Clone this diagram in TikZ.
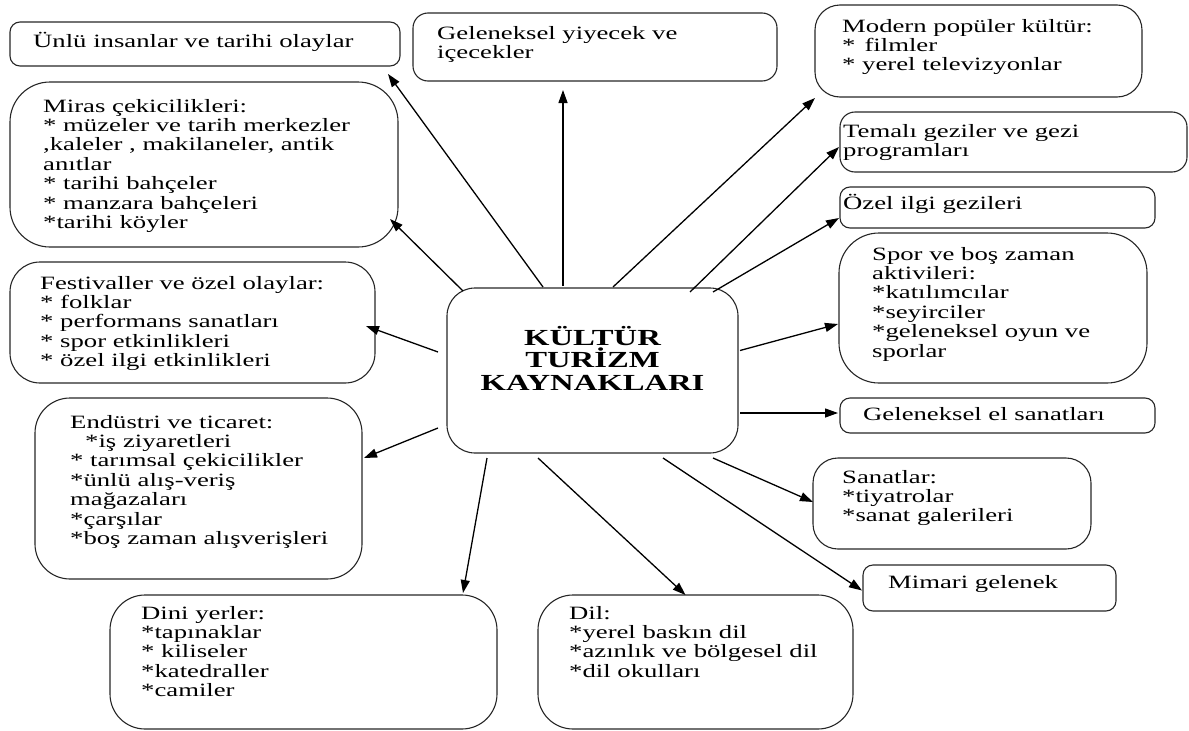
\documentclass[tikz,border=0pt]{standalone}
\usepackage{fontspec}
\setmainfont{Liberation Serif}[FakeStretch=1.42]
\usetikzlibrary{arrows.meta,calc}
\begin{document}
\begin{tikzpicture}[x=1pt,y=-1pt,
  box/.style={draw=black!85, line width=1.1pt, inner sep=0pt, outer sep=0pt, anchor=north west},
  txt/.style={font=\fontsize{18.8}{19.4}\selectfont, align=left, anchor=base west, inner sep=0pt},
  arr/.style={line width=1.3pt, -{Triangle[length=13pt,width=9pt]}}]
\useasboundingbox (0,0) rectangle (1189,731);
% boxes
\node[box, rounded corners=10pt, minimum width=390pt, minimum height=44pt] (ulu) at (10,22) {};
\node[box, rounded corners=40pt, minimum width=388pt, minimum height=165pt] (miras) at (10,82) {};
\node[box, rounded corners=15pt, minimum width=364pt, minimum height=68pt] (yiy) at (413,13) {};
\node[box, rounded corners=25pt, minimum width=327pt, minimum height=92pt] (mod) at (815,5) {};
\node[box, rounded corners=15pt, minimum width=347pt, minimum height=60pt] (tem) at (840,112) {};
\node[box, rounded corners=10pt, minimum width=315pt, minimum height=41pt] (ozel) at (840,187) {};
\node[box, rounded corners=40pt, minimum width=308pt, minimum height=150pt] (spor) at (839,233) {};
\node[box, rounded corners=10pt, minimum width=315pt, minimum height=35pt] (elsan) at (840,398) {};
\node[box, rounded corners=25pt, minimum width=278pt, minimum height=91pt] (san) at (813,458) {};
\node[box, rounded corners=10pt, minimum width=253pt, minimum height=46pt] (mim) at (863,565) {};
\node[box, rounded corners=30pt, minimum width=365pt, minimum height=121pt] (fest) at (10,262) {};
\node[box, rounded corners=35pt, minimum width=327pt, minimum height=181pt] (endu) at (35,398) {};
\node[box, rounded corners=35pt, minimum width=387pt, minimum height=134pt] (dini) at (110,595) {};
\node[box, rounded corners=35pt, minimum width=315pt, minimum height=134pt] (dil) at (538,595) {};
\node[box, rounded corners=28pt, minimum width=291pt, minimum height=165pt] (c) at (447,288) {};
% texts (anchor = baseline of the last line)
\node[txt] (ulu-t) at (33,47) {Ünlü insanlar ve tarihi olaylar};
\node[txt] (miras-t) at (43,228.4) {Miras çekicilikleri:\\* müzeler ve tarih merkezler\\,kaleler , makilaneler, antik\\anıtlar\\* tarihi bahçeler\\* manzara bahçeleri\\*tarihi köyler};
\node[txt] (yiy-t) at (437,58.4) {Geleneksel yiyecek ve\\içecekler};
\node[txt] (mod-t) at (842,70.8) {Modern popüler kültür:\\*\hspace*{9pt}filmler\\* yerel televizyonlar};
\node[txt] (tem-t) at (843,156.4) {Temalı geziler ve gezi\\programları};
\node[txt] (ozel-t) at (843,209) {Özel ilgi gezileri};
\node[txt] (spor-t) at (872,357) {Spor ve boş zaman\\aktivileri:\\*katılımcılar\\*seyirciler\\*geleneksel oyun ve\\sporlar};
\node[txt] (elsan-t) at (863,420) {Geleneksel el sanatları};
\node[txt] (san-t) at (842,521.8) {Sanatlar:\\*tiyatrolar\\*sanat galerileri};
\node[txt] (mim-t) at (888,588) {Mimari gelenek};
\node[txt] (fest-t) at (40,366.6) {Festivaller ve özel olaylar:\\* folklar\\* performans sanatları\\* spor etkinlikleri\\* özel ilgi etkinlikleri};
\node[txt] (endu-t) at (70,544.4) {Endüstri ve ticaret:\\\hspace*{15pt}*iş ziyaretleri\\* tarımsal çekicilikler\\*ünlü alış-veriş\\mağazaları\\*çarşılar\\*boş zaman alışverişleri};
\node[txt] (dini-t) at (141,696.6) {Dini yerler:\\*tapınaklar\\* kiliseler\\*katedraller\\*camiler};
\node[txt] (dil-t) at (569,677.2) {Dil:\\*yerel baskın dil\\*azınlık ve bölgesel dil\\*dil okulları};
\node[font=\bfseries\fontsize{23}{22.5}\selectfont, align=center, anchor=base, inner sep=0pt] (c-t) at (592.5,390) {KÜLTÜR\\TURİZM\\KAYNAKLARI};
% arrows
\draw[arr] ($(c.north west)+(96,-1)$) -- ($(ulu.south east)+(-12,8)$);
\draw[arr] ($(c.north west)+(16,3)$) -- ($(miras.south east)+(-8,-28)$);
\draw[arr] ($(c.north)+(-29.5,-2)$) -- ($(yiy.south)+(-32,9)$);
\draw[arr] ($(c.north)+(20.5,-1)$) -- ($(mod.south west)+(0,1)$);
\draw[arr] ($(c.north east)+(-48,4)$) -- ($(tem.west)+(-1,5)$);
\draw[arr] ($(c.north east)+(-25,4)$) -- ($(ozel.south west)+(-1,-10)$);
\draw[arr] ($(c.east)+(2,-20)$) -- ($(spor.west)+(-1,16)$);
\draw[arr] ($(c.east)+(2,42.5)$) -- ($(elsan.west)+(-2,-2.5)$);
\draw[arr] ($(c.south east)+(-25,5)$) -- ($(san.west)+(0,-1.5)$);
\draw[arr] ($(c.south east)+(-75,5)$) -- ($(mim.west)+(-1,2.5)$);
\draw[arr] ($(c.south)+(-54.5,5)$) -- ($(dil.north)+(-10,0)$);
\draw[arr] ($(c.south west)+(40,5)$) -- ($(dini.north east)+(-34,-2)$);
\draw[arr] ($(c.west)+(-9,57.5)$) -- ($(endu.east)+(2,-30.5)$);
\draw[arr] ($(c.west)+(-9,-18.5)$) -- ($(fest.east)+(-9,3.5)$);
\end{tikzpicture}
\end{document}
